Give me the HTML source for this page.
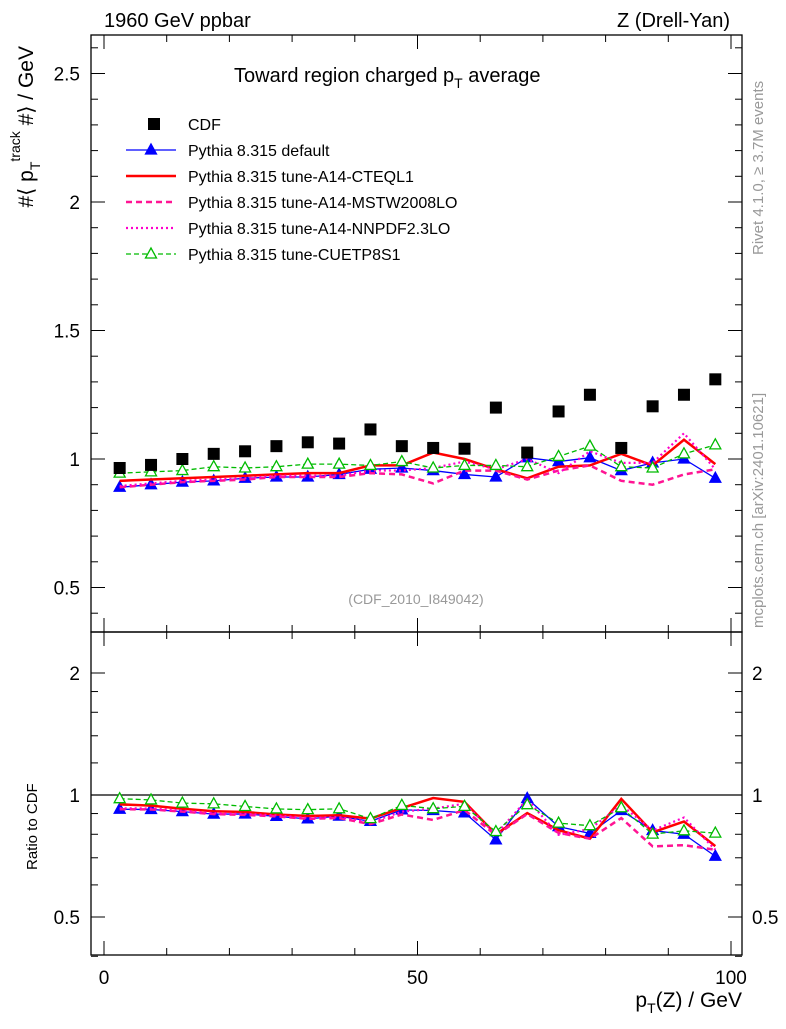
<!DOCTYPE html>
<html><head><meta charset="utf-8"><style>
body{margin:0;background:#fff}
svg text{font-family:"Liberation Sans",sans-serif}
</style></head><body>
<svg id="c" width="786" height="1024" xmlns="http://www.w3.org/2000/svg"></svg>
<script>
const xs=[2.5,7.5,12.5,17.5,22.5,27.5,32.5,37.5,42.5,47.5,52.5,57.5,62.5,67.5,72.5,77.5,82.5,87.5,92.5,97.5];
const cdf=[0.965,0.977,1.0,1.02,1.03,1.05,1.065,1.06,1.115,1.05,1.043,1.04,1.2,1.025,1.185,1.25,1.043,1.205,1.25,1.31];
const pyDefault=[0.89,0.90,0.91,0.915,0.925,0.93,0.93,0.94,0.96,0.965,0.955,0.94,0.93,1.005,0.99,1.005,0.955,0.985,1.0,0.925];
const pyCTEQ=[0.915,0.92,0.925,0.93,0.935,0.94,0.945,0.945,0.975,0.975,1.025,1.0,0.96,0.925,0.97,0.975,1.02,0.975,1.075,0.98];
const pyMSTW=[0.89,0.90,0.91,0.915,0.92,0.93,0.93,0.93,0.945,0.94,0.905,0.955,0.955,0.92,0.955,0.975,0.915,0.9,0.94,0.96];
const pyNNPDF=[0.895,0.905,0.915,0.92,0.925,0.935,0.935,0.935,0.955,0.955,0.965,0.99,0.96,1.0,0.945,1.03,0.985,0.985,1.10,0.96];
const pyCUETP=[0.945,0.95,0.955,0.97,0.965,0.97,0.98,0.98,0.975,0.99,0.965,0.975,0.975,0.97,1.01,1.05,0.97,0.965,1.02,1.055];
const xTicks=[0,50,100];
const yTicks=[0.5,1,1.5,2,2.5];
const rTicks=[0.5,1,2];

const NS="http://www.w3.org/2000/svg";
const svg=document.getElementById('c');
const L=91,R=742,T=35,M=632,B=955;
const X=v=>104+v*6.27;
const Y=v=>459-(v-1)*257;
const RY=v=>795-Math.log2(v)*122;
function el(t,a,p){const e=document.createElementNS(NS,t);for(const k in a)e.setAttribute(k,a[k]);(p||svg).appendChild(e);return e;}
function txt(s,x,y,a){const e=el('text',Object.assign({x:x,y:y,'font-size':19},a||{}));e.textContent=s;return e;}

let f1=el('rect',{x:L,y:T,width:R-L,height:M-T,fill:'none',stroke:'#000','stroke-width':1.3});

let f2=el('rect',{x:L,y:M,width:R-L,height:B-M,fill:'none',stroke:'#000','stroke-width':1.3});

for(let v=0;v<=100;v+=10){const maj=v%50==0;const l=maj?14:7;
 for(const [y0,d] of [[M,-1],[T,1],[B,-1],[M,1]]) el('line',{x1:X(v),x2:X(v),y1:y0,y2:y0+d*l,stroke:'#000'});}
xTicks.forEach(v=>{const t=txt(String(v),X(v),984,{'text-anchor':'middle'});});
for(let v=0.4;v<=2.65;v+=0.1){const vv=Math.round(v*10)/10;const maj=Math.abs(vv*2-Math.round(vv*2))<1e-6;const l=maj?14:7;
 el('line',{x1:L,x2:L+l,y1:Y(vv),y2:Y(vv),stroke:'#000'});el('line',{x1:R,x2:R-l,y1:Y(vv),y2:Y(vv),stroke:'#000'});}
yTicks.forEach(v=>{const t=txt(String(v),80,Y(v)+7,{'text-anchor':'end'});});
[0.4,0.5,0.6,0.7,0.8,0.9,1,2].forEach(v=>{const maj=rTicks.includes(v);const l=maj?14:7;
 el('line',{x1:L,x2:L+l,y1:RY(v),y2:RY(v),stroke:'#000'});el('line',{x1:R,x2:R-l,y1:RY(v),y2:RY(v),stroke:'#000'});});
[1.2,1.4,1.6,1.8].forEach(v=>{el('line',{x1:L,x2:L+7,y1:RY(v),y2:RY(v),stroke:'#000'});el('line',{x1:R,x2:R-7,y1:RY(v),y2:RY(v),stroke:'#000'});});
rTicks.forEach(v=>{const t=txt(String(v),80,RY(v)+7,{'text-anchor':'end'});
 const t2=txt(String(v),752,RY(v)+7);});
el('line',{x1:L,x2:R,y1:RY(1),y2:RY(1),stroke:'#000','stroke-width':1.3});

const series=[
 {d:pyDefault,c:'#0000ff',w:1.3,da:'',m:'tri',fill:'#0000ff',n:'pythia-default'},
 {d:pyCTEQ,c:'#ff0000',w:2.5,da:'',m:'',n:'pythia-a14-cteql1'},
 {d:pyMSTW,c:'#ff1493',w:2.5,da:'6,4',m:'',n:'pythia-a14-mstw2008lo'},
 {d:pyNNPDF,c:'#ff00cc',w:2.2,da:'2,3',m:'',n:'pythia-a14-nnpdf23lo'},
 {d:pyCUETP,c:'#00bb00',w:1.3,da:'5,3',m:'tri',fill:'none',n:'pythia-cuetp8s1'}];
function tri(g,x,y,c,fill){const p=el('polygon',{points:`${x},${y-6} ${x-5.5},${y+4} ${x+5.5},${y+4}`,fill:fill=='none'?'#fff':fill,stroke:c,'stroke-width':1.3},g);return p;}
series.forEach(s=>{
 const g=el('g',{});
 const pts=s.d.map((v,i)=>X(xs[i])+','+Y(v)).join(' ');
 el('polyline',{points:pts,fill:'none',stroke:s.c,'stroke-width':s.w,'stroke-dasharray':s.da},g);
 const rp=s.d.map((v,i)=>X(xs[i])+','+RY(v/cdf[i])).join(' ');
 el('polyline',{points:rp,fill:'none',stroke:s.c,'stroke-width':s.w,'stroke-dasharray':s.da},g);
 if(s.m=='tri') s.d.forEach((v,i)=>{tri(g,X(xs[i]),Y(v),s.c,s.fill);tri(g,X(xs[i]),RY(v/cdf[i]),s.c,s.fill);});
});
const gc=el('g',{});
cdf.forEach((v,i)=>{el('rect',{x:X(xs[i])-6,y:Y(v)-6,width:12,height:12,fill:'#000'},gc);});

const leg=[['CDF','sq'],['Pythia 8.315 default',0],['Pythia 8.315 tune-A14-CTEQL1',1],['Pythia 8.315 tune-A14-MSTW2008LO',2],['Pythia 8.315 tune-A14-NNPDF2.3LO',3],['Pythia 8.315 tune-CUETP8S1',4]];
leg.forEach((e,i)=>{const y=124+i*26;const g=el('g',{});
 if(e[1]=='sq') el('rect',{x:148,y:y-6,width:12,height:12,fill:'#000'},g);
 else{const s=series[e[1]];el('line',{x1:126,x2:176,y1:y,y2:y,stroke:s.c,'stroke-width':s.w,'stroke-dasharray':s.da},g);if(s.m)tri(g,151,y,s.c,s.fill);}
 const t=el('text',{x:188,y:y+6,'font-size':16},g);t.textContent=e[0];});

let t;
t=txt('1960 GeV ppbar',104,27,{'font-size':20});
t=txt('Z (Drell-Yan)',730,27,{'font-size':20,'text-anchor':'end'});
t=el('text',{x:234,y:82,'font-size':20});t.innerHTML='Toward region charged p<tspan font-size="14" dy="6">T</tspan><tspan dy="-6"> average</tspan>';
t=txt('(CDF_2010_I849042)',416,604,{'font-size':14,fill:'#999','text-anchor':'middle'});
t=el('text',{x:0,y:0,'font-size':21,transform:'translate(33,46) rotate(-90)','text-anchor':'end'});t.innerHTML='#⟨ p<tspan font-size="14" dy="7">T</tspan><tspan font-size="14" dy="-20">track</tspan><tspan dy="13"> #⟩ / GeV</tspan>';
t=el('text',{x:0,y:0,'font-size':15,transform:'translate(37,870) rotate(-90)'});t.textContent='Ratio to CDF';
t=el('text',{x:742,y:1007,'font-size':21,'text-anchor':'end'});t.innerHTML='p<tspan font-size="14" dy="6">T</tspan><tspan dy="-6">(Z) / GeV</tspan>';
t=el('text',{x:0,y:0,'font-size':15,fill:'#999',transform:'translate(763,255) rotate(-90)'});t.textContent='Rivet 4.1.0, ≥ 3.7M events';
t=el('text',{x:0,y:0,'font-size':15,fill:'#999',transform:'translate(763,628) rotate(-90)'});t.textContent='mcplots.cern.ch [arXiv:2401.10621]';
</script>
</body></html>
